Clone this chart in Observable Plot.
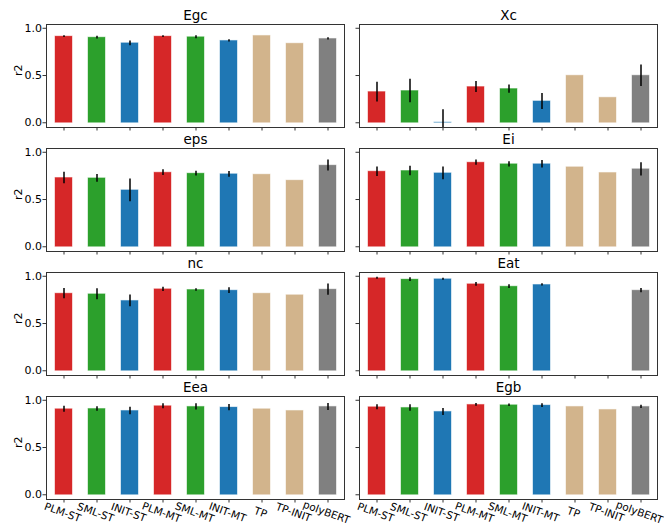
<!DOCTYPE html>
<html><head><meta charset="utf-8">
<script src="https://cdn.jsdelivr.net/npm/d3@7"></script>
<script src="https://cdn.jsdelivr.net/npm/@observablehq/plot@0.6"></script>
<style>
html,body{margin:0;padding:0;background:#fff;overflow:hidden;}
svg{display:block;}
</style>
</head><body><div id="chart"></div>
<script>
const models = ["PLM-ST","SML-ST","INIT-ST","PLM-MT","SML-MT","INIT-MT","TP","TP-INIT","polyBERT"];
const modelColors = ["#d62728","#2ca02c","#1f77b4","#d62728","#2ca02c","#1f77b4","#d2b48c","#d2b48c","#808080"];
const yTicks = [0, 0.5, 1.0];

const valEgc = [0.912,0.901,0.841,0.912,0.905,0.866,0.919,0.837,0.887];
const errEgc = [0.010,0.015,0.025,0.010,0.015,0.012,null,null,0.012];
const valXc  = [0.325,0.336,0.002,0.378,0.357,0.226,0.498,0.265,0.498];
const errXc  = [0.105,0.125,0.135,0.058,0.044,0.085,null,null,0.113];
const valEps = [0.728,0.724,0.597,0.784,0.774,0.767,0.763,0.700,0.859];
const errEps = [0.060,0.040,0.120,0.030,0.025,0.030,null,null,0.058];
const valEi  = [0.795,0.802,0.777,0.890,0.873,0.873,0.841,0.781,0.820];
const errEi  = [0.050,0.050,0.067,0.028,0.028,0.040,null,null,0.070];
const valNc  = [0.816,0.809,0.739,0.862,0.855,0.848,0.816,0.799,0.859];
const errNc  = [0.055,0.058,0.062,0.023,0.014,0.030,null,null,0.060];
const valEat = [0.979,0.965,0.968,0.915,0.890,0.908,0.0,0.0,0.848];
const errEat = [0.010,0.020,0.010,0.020,0.020,0.012,null,null,0.023];
const valEea = [0.905,0.908,0.887,0.937,0.930,0.923,0.905,0.887,0.930];
const errEea = [0.032,0.023,0.040,0.026,0.032,0.033,null,null,0.037];
const valEgb = [0.926,0.919,0.877,0.951,0.947,0.944,0.930,0.898,0.930];
const errEgb = [0.026,0.035,0.037,0.014,0.014,0.020,null,null,0.018];

const panels = [
  {prop:"Egc", col:0, row:0, v:valEgc, e:errEgc},
  {prop:"Xc",  col:1, row:0, v:valXc,  e:errXc},
  {prop:"eps", col:0, row:1, v:valEps, e:errEps},
  {prop:"Ei",  col:1, row:1, v:valEi,  e:errEi},
  {prop:"nc",  col:0, row:2, v:valNc,  e:errNc},
  {prop:"Eat", col:1, row:2, v:valEat, e:errEat},
  {prop:"Eea", col:0, row:3, v:valEea, e:errEea},
  {prop:"Egb", col:1, row:3, v:valEgb, e:errEgb}
];

const data = panels.flatMap(p => models.map((m, i) => ({prop:p.prop, col:p.col, row:p.row, model:m, value:p.v[i], err:p.e[i]})));
const errData = data.filter(d => d.err != null);
const titles = panels.map(p => ({prop:p.prop, col:p.col, row:p.row}));
const leftPanels = titles.filter(t => t.col === 0);

const chart = Plot.plot({
  width: 664, height: 532,
  marginLeft: 46, marginRight: 7, marginTop: 22, marginBottom: 32,
  style: {fontFamily: "'DejaVu Sans', sans-serif", fontSize: "10.5px", color: "#000", background: "#fff"},
  fx: {domain: [0, 1], paddingInner: 0.048, paddingOuter: 0, axis: null},
  fy: {domain: [0, 1, 2, 3], paddingInner: 0.172, paddingOuter: 0, axis: null},
  x: {domain: models, paddingInner: 0.5, paddingOuter: 0.25, label: null},
  y: {domain: [-0.05, 1.04], label: null},
  color: {domain: models, range: modelColors},
  marks: [
    Plot.barY(data, {fx: "col", fy: "row", x: "model", y1: 0, y2: "value", fill: "model", stroke: "model", strokeOpacity: 0.4, strokeWidth: 1}),
    Plot.ruleX(errData, {fx: "col", fy: "row", x: "model", y1: d => d.value - d.err, y2: d => d.value + d.err, stroke: "black", strokeWidth: 1.5, clip: true}),
    Plot.frame({stroke: "#333", strokeWidth: 1}),
    Plot.axisX({tickSize: 3.5, fill: null, facetAnchor: null, label: null, stroke: "#333"}),
    Plot.axisX({tickSize: 0, tickPadding: 13, dx: -1.5, tickRotate: 20, textAnchor: "middle", lineAnchor: "middle", label: null, fontSize: 10.5}),
    Plot.axisY({ticks: yTicks, tickSize: 3.5, fill: null, facetAnchor: null, label: null, stroke: "#333"}),
    Plot.axisY({ticks: yTicks, tickSize: 0, tickPadding: 4.5, tickFormat: d3.format(".1f"), label: null, fontSize: 11}),
    Plot.text(titles, {fx: "col", fy: "row", text: "prop", frameAnchor: "top", dy: -9, lineAnchor: "middle", fontSize: 13.5}),
    Plot.text(leftPanels, {fx: "col", fy: "row", text: () => "r2", frameAnchor: "left", rotate: -90, dx: -28, fontSize: 11})
  ]
});
document.getElementById("chart").appendChild(chart);
</script>
</body></html>
